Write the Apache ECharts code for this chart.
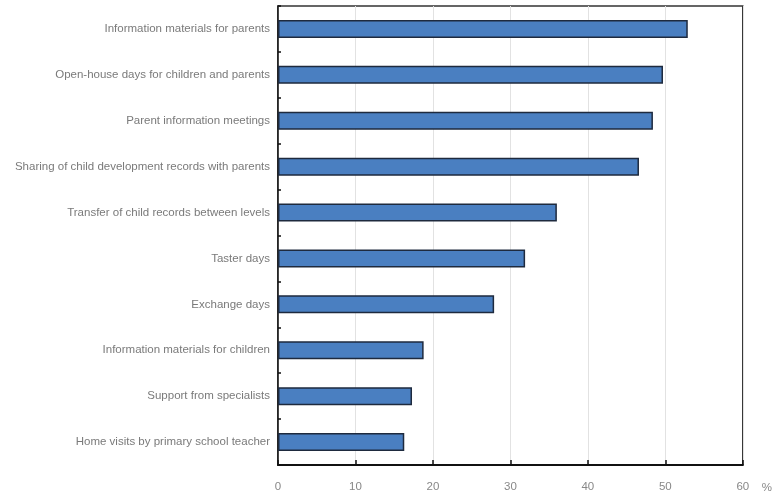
<!DOCTYPE html>
<html>
<head>
<meta charset="utf-8">
<script src="https://cdn.jsdelivr.net/npm/echarts@6/dist/echarts.min.js"></script>
<style>
html,body{margin:0;padding:0;background:#fff;overflow:hidden;}
#c{width:100vw;height:100vh;}
</style>
</head>
<body>
<div id="c"></div>
<script>
var categories = [
  "Information materials for parents",
  "Open-house days for children and parents",
  "Parent information meetings",
  "Sharing of child development records with parents",
  "Transfer of child records between levels",
  "Taster days",
  "Exchange days",
  "Information materials for children",
  "Support from specialists",
  "Home visits by primary school teacher"
];
var values = [52.9, 49.7, 48.4, 46.6, 36.0, 31.9, 27.9, 18.8, 17.3, 16.3];
var xTicks = [0, 10, 20, 30, 40, 50, 60];

var font = "'Liberation Sans Narrow','Arial Narrow','Liberation Sans',Arial,sans-serif";
var chart = echarts.init(document.getElementById('c'));
chart.setOption({
  animation: false,
  grid: {left: 278, right: 32, top: 6, bottom: 33, show: true, borderColor: '#333', borderWidth: 1.5, backgroundColor: 'transparent'},
  xAxis: {
    type: 'value', min: xTicks[0], max: xTicks[xTicks.length - 1], interval: 10,
    name: '%', nameLocation: 'end', nameGap: 19,
    nameTextStyle: {color: '#888', fontFamily: font, fontSize: 11.5, verticalAlign: 'top', padding: [17, 0, 0, 0]},
    axisLine: {show: true, lineStyle: {color: '#111', width: 2}},
    axisTick: {show: true, inside: true, length: 5, lineStyle: {color: '#111', width: 1.5}},
    axisLabel: {color: '#888', fontFamily: font, fontSize: 11.5, margin: 16},
    splitLine: {show: true, lineStyle: {color: '#e2e2e2', width: 1}}
  },
  yAxis: {
    type: 'category', data: categories, inverse: true,
    axisLine: {show: true, lineStyle: {color: '#111', width: 1.5}},
    axisTick: {show: true, inside: true, length: 3, lineStyle: {color: '#111', width: 1.5}},
    axisLabel: {color: '#7a7a7a', fontFamily: font, fontSize: 11.5, margin: 8},
    splitLine: {show: false}
  },
  series: [{
    type: 'bar', data: values, barWidth: 18,
    itemStyle: {color: '#4a7fc1', borderColor: '#1e2a3e', borderWidth: 1.5}
  }]
});
window.addEventListener('resize', function(){ chart.resize(); });
</script>
</body>
</html>
